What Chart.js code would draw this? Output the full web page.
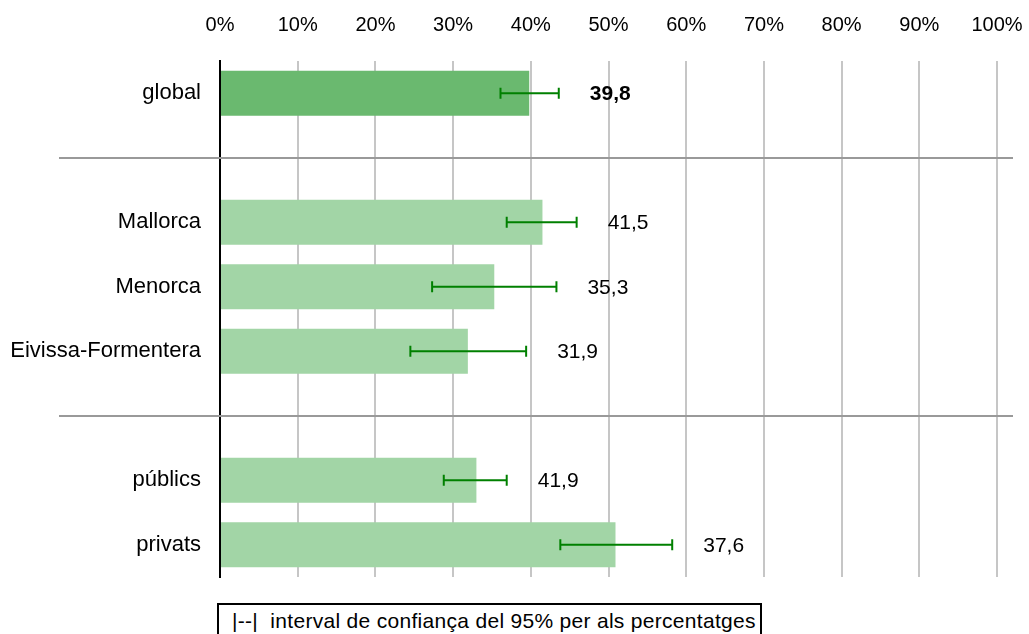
<!DOCTYPE html>
<html>
<head>
<meta charset="utf-8">
<script src="https://cdn.jsdelivr.net/npm/chart.js@4.4.1/dist/chart.umd.min.js"></script>
<style>
  body { margin: 0; background: #fff; width: 1029px; height: 634px; overflow: hidden; position: relative;
         font-family: "Liberation Sans", Arial, sans-serif; }
  #chart { position: absolute; left: 0; top: 0; }
  #key { position: absolute; left: 217px; top: 603px; width: 528px; height: 40px; padding-left: 13px;
         border: 2px solid #000; font-size: 21px; letter-spacing: 0.3px; line-height: 31px; color: #000;
         white-space: nowrap; }
</style>
</head>
<body>
<canvas id="chart" width="1029" height="590"></canvas>
<div id="key">|--|&nbsp; interval de confiança del 95% per als percentatges</div>
<script>
// rows with '' are the empty spacer rows between groups
const categories = ["global", "", "Mallorca", "Menorca", "Eivissa-Formentera", "", "públics", "privats"];
const barValues = [39.8, null, 41.5, 35.3, 31.9, null, 33.0, 50.9];
const ciLow = [36.1, null, 36.9, 27.3, 24.5, null, 28.8, 43.8];
const ciHigh = [43.6, null, 45.9, 43.3, 39.4, null, 36.9, 58.2];
const valueLabels = ["39,8", "", "41,5", "35,3", "31,9", "", "41,9", "37,6"];
const xTicks = [0, 10, 20, 30, 40, 50, 60, 70, 80, 90, 100];

const FONT = '"Liberation Sans", Arial, sans-serif';

// horizontal separators on the spacer rows, error bars and value labels
const extrasPlugin = {
    id: "extras",
    afterDatasetsDraw(chart) {
        const ctx = chart.ctx;
        const x = chart.scales.x;
        const y = chart.scales.y;

        ctx.save();
        ctx.strokeStyle = "#999999";
        ctx.lineWidth = 2;
        categories.forEach((c, i) => {
            if (c !== "") return;
            const py = Math.round(y.getPixelForValue(i));
            ctx.beginPath();
            ctx.moveTo(59, py);
            ctx.lineTo(1013, py);
            ctx.stroke();
        });

        ctx.strokeStyle = "#008000";
        ctx.lineWidth = 2;
        for (let i = 0; i < categories.length; i++) {
            if (ciLow[i] === null) continue;
            const py = y.getPixelForValue(i);
            const x1 = x.getPixelForValue(ciLow[i]);
            const x2 = x.getPixelForValue(ciHigh[i]);
            ctx.beginPath();
            ctx.moveTo(x1, py);
            ctx.lineTo(x2, py);
            ctx.moveTo(x1, py - 5.5);
            ctx.lineTo(x1, py + 5.5);
            ctx.moveTo(x2, py - 5.5);
            ctx.lineTo(x2, py + 5.5);
            ctx.stroke();

            ctx.fillStyle = "#000";
            ctx.font = (i === 0 ? "bold " : "") + "21px " + FONT;
            ctx.textAlign = "left";
            ctx.textBaseline = "middle";
            ctx.fillText(valueLabels[i], x2 + 31, py + 1);
        }
        ctx.restore();
    }
};

new Chart(document.getElementById("chart"), {
    type: "bar",
    data: {
        labels: categories,
        datasets: [{
            data: barValues,
            backgroundColor: (c) => c.dataIndex === 0 ? "#6ab96f" : "#a2d5a6",
            borderWidth: 0,
            categoryPercentage: 1,
            barPercentage: 0.7
        }]
    },
    options: {
        indexAxis: "y",
        responsive: false,
        animation: false,
        devicePixelRatio: 1,
        layout: { padding: { left: 0, right: 32, top: 0, bottom: 13 } },
        plugins: { legend: { display: false }, tooltip: { enabled: false } },
        scales: {
            x: {
                position: "top",
                min: 0,
                max: 100,
                afterBuildTicks: (s) => { s.ticks = xTicks.map(v => ({ value: v })); },
                afterFit: (s) => { s.height = 61; s.paddingLeft = 0; s.paddingRight = 0; },
                ticks: {
                    callback: (v) => v + "%",
                    color: "#000",
                    font: { family: FONT, size: 20 },
                    padding: 24
                },
                grid: { color: "#c6c6c6", lineWidth: 2, drawTicks: false },
                border: { display: false }
            },
            y: {
                afterFit: (s) => { s.width = 220; s.paddingTop = 0; s.paddingBottom = 0; },
                ticks: {
                    color: "#000",
                    font: { family: FONT, size: 22 },
                    padding: 19
                },
                grid: { display: false, drawTicks: false },
                border: { display: true, color: "#000", width: 2 }
            }
        }
    },
    plugins: [extrasPlugin]
});
</script>
</body>
</html>
